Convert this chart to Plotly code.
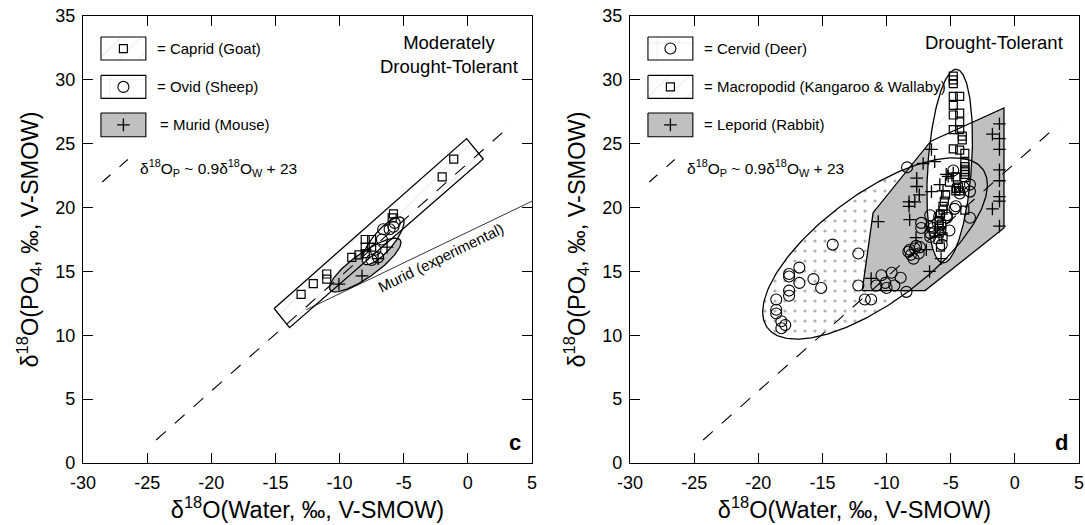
import numpy as np
import plotly.graph_objects as go

FONT = "Liberation Sans, Arial, Helvetica, sans-serif"
GRAY = "#c0c0c0"
INK = "black"

# ---------------- axes ----------------
x_ticks = [-30, -25, -20, -15, -10, -5, 0, 5]
y_ticks = [0, 5, 10, 15, 20, 25, 30, 35]

# reference line  d18Op ~ 0.9 d18Ow + 23 (end points as plotted)
ref_line_x = [-24.3, 3.4]
ref_line_y = [1.8, 26.5]

# ---------------- panel c : moderately drought-tolerant ----------------
caprid_x = [-1.1, -2.0, -5.8, -5.9, -8.0, -7.5, -8.0, -7.5, -8.0, -8.5, -9.05, -11.0, -11.0, -12.05, -13.0]
caprid_y = [23.8, 22.4, 19.5, 19.2, 17.5, 17.5, 16.9, 16.9, 16.4, 16.3, 16.1, 14.8, 14.4, 14.05, 13.2]

ovid_x = [-5.7, -5.8, -6.1, -6.6, -6.7, -7.2, -7.0, -7.5]
ovid_y = [18.8, 18.5, 18.3, 18.3, 17.5, 16.7, 16.1, 15.9]

murid_x = [-6.3, -7.0, -8.25, -10.05]
murid_y = [16.9, 16.0, 14.65, 14.0]

caprid_box_x = [-15.1, -0.1, 1.2, -13.9]
caprid_box_y = [12.1, 25.4, 23.8, 10.6]
# ellipses: centre x, centre y, semi-major, semi-minor, tilt (deg)
ovid_ellipse = [-6.6, 17.4, 2.35, 0.8, 50.0]
murid_ellipse = [-8.0, 15.5, 3.36, 0.95, 35.6]

murid_exp_x = [-12.6, 5.0]
murid_exp_y = [12.0, 20.5]

# ---------------- panel d : drought-tolerant ----------------
cervid_x = [-14.2, -12.2, -16.8, -17.6, -17.6, -16.8, -15.7, -15.1, -17.6, -17.6, -18.6, -18.6, -18.6,
            -18.2, -17.9, -18.2, -12.2, -11.7, -11.2, -10.4, -9.6, -8.9, -10.1, -10.8, -10.0, -9.4,
            -8.45, -8.3, -7.8, -7.5, -7.9, -7.4, -8.1, -7.7, -8.2, -6.6, -8.4, -6.6, -7.3, -6.6,
            -6.25, -6.6, -5.7, -4.8, -3.5, -3.5, -4.0, -4.3, -4.6, -4.7, -5.3, -5.9, -6.0, -6.4,
            -7.3, -3.5, -5.3, -5.1]
cervid_y = [17.1, 16.4, 15.3, 14.8, 14.6, 14.1, 14.4, 13.7, 13.5, 13.1, 12.8, 12.0, 11.7,
            11.1, 10.8, 10.55, 13.9, 12.8, 12.8, 14.7, 14.9, 14.5, 14.1, 13.9, 13.7, 13.9,
            13.4, 16.55, 16.8, 16.4, 16.0, 16.9, 16.3, 17.0, 16.7, 18.0, 23.15, 19.4, 18.8, 18.5,
            18.1, 17.7, 17.1, 22.9, 21.8, 21.25, 21.6, 21.1, 20.1, 19.9, 19.4, 19.3, 18.8, 18.4,
            18.4, 19.2, 19.2, 18.2]

macro_x = [-4.8, -4.8, -4.8, -4.8, -4.3, -4.8, -4.3, -4.8, -4.3, -4.8, -4.3, -4.1, -4.1, -4.8,
           -4.3, -3.9, -3.9, -3.9, -3.9, -3.9, -3.9, -3.9, -4.6, -5.1, -4.4, -4.6, -4.3, -5.4,
           -5.5, -5.6, -5.6, -5.8, -5.9, -5.7, -5.9, -5.7, -5.9, -5.6, -6.0, -5.8, -3.9, -4.55]
macro_y = [30.3, 30.0, 29.7, 28.7, 28.7, 28.0, 27.4, 27.25, 26.7, 26.1, 26.1, 25.6, 25.3, 24.6,
           24.5, 24.25, 23.5, 23.2, 23.0, 22.8, 22.6, 22.35, 22.4, 22.0, 21.6, 21.3, 21.3, 21.0,
           20.5, 20.1, 19.8, 19.5, 19.0, 18.7, 18.5, 18.2, 18.0, 17.7, 17.5, 16.9, 19.8, 21.5]

leporid_x = [-1.2, -1.75, -1.2, -1.2, -1.2, -1.2, -1.2, -1.2, -1.75, -1.2,
             -6.5, -7.15, -6.25, -7.65, -7.65, -7.45, -8.25, -7.8, -8.25, -10.65, -8.2, -7.7,
             -6.9, -6.65, -11.2, -6.5, -5.2, -4.8, -5.35, -5.75, -5.6, -5.85]
leporid_y = [26.55, 25.75, 25.4, 24.55, 22.95, 22.1, 20.85, 20.5, 19.9, 18.55,
             24.55, 23.45, 23.6, 22.3, 21.65, 21.0, 20.45, 20.45, 20.1, 18.9, 19.05, 17.65,
             16.7, 15.0, 14.45, 21.25, 22.45, 22.7, 22.6, 16.0, 21.3, 21.8]

cervid_ellipse = [-10.9, 16.8, 10.44, 4.25, 36.6]
macro_ellipse = [-5.08, 23.25, 7.6, 1.7, 86.0]
leporid_poly_x = [-11.9, -11.05, -6.55, -0.85, -0.85, -7.0]
leporid_poly_y = [13.5, 19.6, 25.2, 27.8, 18.4, 13.5]

# ---------------- styles ----------------
PAT_DASH = dict(shape="/", fgcolor="#dadada", bgcolor="white", size=14, solidity=0.06)
PAT_PLUS = dict(shape="+", fgcolor="#d0d0d0", bgcolor="white", size=18, solidity=0.04)
PAT_DOT = dict(shape=".", fgcolor="#b0b0b0", bgcolor="white", size=10, solidity=0.08)

MK_SQ = dict(symbol="square-open", size=8, color=INK, line=dict(width=1.2, color=INK))
MK_CI = dict(symbol="circle-open", size=11, color=INK, line=dict(width=1.1, color=INK))
MK_PL = dict(symbol="cross-thin-open", size=9, color=INK, line=dict(width=1.3, color=INK))


def ellipse_xy(p, n=240):
    cx, cy, a, b, ang = p
    t = np.linspace(0, 2 * np.pi, n)
    th = np.radians(ang)
    x = cx + a * np.cos(t) * np.cos(th) - b * np.sin(t) * np.sin(th)
    y = cy + a * np.cos(t) * np.sin(th) + b * np.sin(t) * np.cos(th)
    return x, y


def closed(xs, ys):
    return list(xs) + [xs[0]], list(ys) + [ys[0]]


fig = go.Figure()


def add_fill(xs, ys, xa, ya, color="white", pattern=None):
    kw = dict(fillpattern=pattern) if pattern else {}
    fig.add_trace(go.Scatter(x=list(xs), y=list(ys), mode="lines", fill="toself",
                             fillcolor=color, line=dict(width=0), hoverinfo="skip",
                             xaxis=xa, yaxis=ya, **kw))


def add_line(xs, ys, xa, ya, width=1.3, dash="solid", color=INK):
    fig.add_trace(go.Scatter(x=list(xs), y=list(ys), mode="lines",
                             line=dict(width=width, color=color, dash=dash),
                             hoverinfo="skip", xaxis=xa, yaxis=ya))


def add_points(xs, ys, marker, xa, ya):
    fig.add_trace(go.Scatter(x=xs, y=ys, mode="markers", marker=marker,
                             xaxis=xa, yaxis=ya))


# legend geometry (in axis units)
LEG_X0, LEG_X1 = -28.6, -25.1
LEG_ROWS = [(33.35, 31.55), (30.35, 28.55), (27.4, 25.55)]
LEG_MARK_X = -26.85
LEG_TEXT_X = -24.35
EQ_DASH_X = [-28.5, -26.3]
EQ_DASH_Y = [22.0, 23.95]
EQ_TEXT = "δ<sup>18</sup>O<sub>P</sub> ~ 0.9δ<sup>18</sup>O<sub>W</sub> + 23"

annotations = []


def legend_entry(row, color, pattern, marker, label, xa, ya, text_x=LEG_TEXT_X):
    y0, y1 = LEG_ROWS[row]
    bx, by = closed([LEG_X0, LEG_X1, LEG_X1, LEG_X0], [y0, y0, y1, y1])
    add_fill(bx, by, xa, ya, color, pattern)
    add_line(bx, by, xa, ya, width=1.1)
    add_points([LEG_MARK_X], [(y0 + y1) / 2], marker, xa, ya)
    annotations.append(dict(x=text_x, y=(y0 + y1) / 2, xref=xa, yref=ya, text=label,
                            showarrow=False, xanchor="left", yanchor="middle",
                            font=dict(family=FONT, size=15, color=INK)))


# ================= panel c =================
xa, ya = "x", "y"
cb_x, cb_y = closed(caprid_box_x, caprid_box_y)
add_fill(cb_x, cb_y, xa, ya, "white", PAT_DASH)
mx, my = ellipse_xy(murid_ellipse)
add_fill(mx, my, xa, ya, GRAY)
ox, oy = ellipse_xy(ovid_ellipse)
add_fill(ox, oy, xa, ya, "white", PAT_PLUS)
add_line(ref_line_x, ref_line_y, xa, ya, width=1.1, dash="13px,12px")
add_line(murid_exp_x, murid_exp_y, xa, ya, width=0.8)
add_line(cb_x, cb_y, xa, ya)
add_line(mx, my, xa, ya)
add_line(ox, oy, xa, ya)
add_points(caprid_x, caprid_y, MK_SQ, xa, ya)
add_points(ovid_x, ovid_y, MK_CI, xa, ya)
add_points(murid_x, murid_y, MK_PL, xa, ya)

legend_entry(0, "white", PAT_DASH, MK_SQ, "= Caprid (Goat)", xa, ya)
legend_entry(1, "white", PAT_PLUS, MK_CI, "= Ovid (Sheep)", xa, ya)
legend_entry(2, GRAY, None, MK_PL, "= Murid (Mouse)", xa, ya, text_x=LEG_TEXT_X + 0.2)
add_line(EQ_DASH_X, EQ_DASH_Y, xa, ya, width=1.1, dash="11px,12px")
annotations.append(dict(x=-25.7, y=23.1, xref=xa, yref=ya, text=EQ_TEXT, showarrow=False,
                        xanchor="left", yanchor="middle",
                        font=dict(family=FONT, size=15.5, color=INK)))
annotations.append(dict(x=4.05, y=31.95, xref=xa, yref=ya,
                        text="Moderately<br>Drought-Tolerant", showarrow=False,
                        xanchor="right", yanchor="middle", align="center",
                        font=dict(family=FONT, size=18.5, color=INK)))
annotations.append(dict(x=-2.1, y=16.1, xref=xa, yref=ya, text="Murid (experimental)",
                        showarrow=False, textangle=-26, xanchor="center", yanchor="middle",
                        font=dict(family=FONT, size=15, color=INK)))
annotations.append(dict(x=4.3, y=0.45, xref=xa, yref=ya, text="<b>c</b>", showarrow=False,
                        xanchor="right", yanchor="bottom",
                        font=dict(family=FONT, size=22, color=INK)))

# ================= panel d =================
xa, ya = "x2", "y2"
cx_, cy_ = ellipse_xy(cervid_ellipse)
add_fill(cx_, cy_, xa, ya, "white", PAT_DOT)
lp_x, lp_y = closed(leporid_poly_x, leporid_poly_y)
add_fill(lp_x, lp_y, xa, ya, GRAY)
kx, ky = ellipse_xy(macro_ellipse)
add_fill(kx, ky, xa, ya, "white", PAT_DASH)
add_line(ref_line_x, ref_line_y, xa, ya, width=1.1, dash="13px,12px")
add_line(cx_, cy_, xa, ya)
add_line(lp_x, lp_y, xa, ya)
add_line(kx, ky, xa, ya)
add_points(cervid_x, cervid_y, MK_CI, xa, ya)
add_points(macro_x, macro_y, MK_SQ, xa, ya)
add_points(leporid_x, leporid_y, MK_PL, xa, ya)

legend_entry(0, "white", PAT_PLUS, MK_CI, "= Cervid (Deer)", xa, ya)
legend_entry(1, "white", PAT_DASH, MK_SQ, "= Macropodid (Kangaroo &amp; Wallaby)", xa, ya)
legend_entry(2, GRAY, None, MK_PL, "= Leporid (Rabbit)", xa, ya)
add_line(EQ_DASH_X, EQ_DASH_Y, xa, ya, width=1.1, dash="11px,12px")
annotations.append(dict(x=-25.7, y=23.1, xref=xa, yref=ya, text=EQ_TEXT, showarrow=False,
                        xanchor="left", yanchor="middle",
                        font=dict(family=FONT, size=15.5, color=INK)))
annotations.append(dict(x=3.9, y=32.9, xref=xa, yref=ya, text="Drought-Tolerant",
                        showarrow=False, xanchor="right", yanchor="middle",
                        font=dict(family=FONT, size=18.5, color=INK)))
annotations.append(dict(x=4.3, y=0.45, xref=xa, yref=ya, text="<b>d</b>", showarrow=False,
                        xanchor="right", yanchor="bottom",
                        font=dict(family=FONT, size=22, color=INK)))

# ================= layout =================
X_TITLE = "δ<sup>18</sup>O(Water, ‰, V-SMOW)"
Y_TITLE = "δ<sup>18</sup>O(PO<sub>4</sub>, ‰, V-SMOW)"


def xaxis(domain, anchor):
    return dict(domain=domain, anchor=anchor, range=[-30, 5], tickvals=x_ticks,
                ticktext=[str(v) for v in x_ticks], ticks="inside", ticklen=10,
                tickwidth=1, tickcolor=INK, showline=True, linecolor=INK, linewidth=1.2,
                mirror="allticks", showgrid=False, zeroline=False, automargin=False,
                ticklabelstandoff=3,
                tickfont=dict(family=FONT, size=18, color=INK),
                title=dict(text=X_TITLE, standoff=8,
                           font=dict(family=FONT, size=23.5, color=INK)))


def yaxis(domain, anchor):
    return dict(domain=domain, anchor=anchor, range=[0, 35], tickvals=y_ticks,
                ticktext=[str(v) for v in y_ticks], ticks="inside", ticklen=10,
                tickwidth=1, tickcolor=INK, showline=True, linecolor=INK, linewidth=1.2,
                mirror="allticks", showgrid=False, zeroline=False, automargin=False,
                ticklabelstandoff=3,
                tickfont=dict(family=FONT, size=18, color=INK),
                title=dict(text=Y_TITLE, standoff=10,
                           font=dict(family=FONT, size=23.5, color=INK)))


W, H = 1085, 525
ydom = [1 - 463 / H, 1 - 16 / H]
fig.update_layout(
    width=W, height=H, template="none", showlegend=False,
    margin=dict(l=0, r=0, t=0, b=0),
    paper_bgcolor="white", plot_bgcolor="white",
    xaxis=xaxis([83 / W, 532 / W], "y"),
    yaxis=yaxis(ydom, "x"),
    xaxis2=xaxis([630 / W, 1079 / W], "y2"),
    yaxis2=yaxis(ydom, "x2"),
    annotations=annotations,
)

fig.write_html("out.html")
